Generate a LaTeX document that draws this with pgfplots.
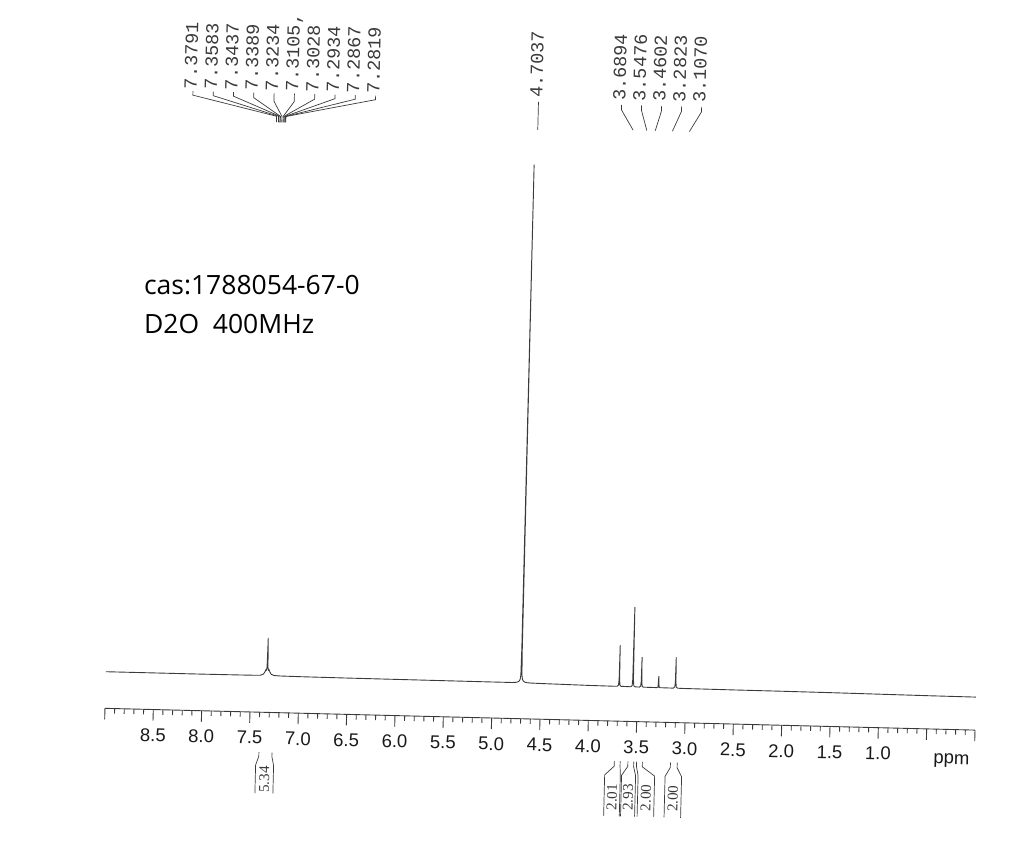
\documentclass[border=0pt]{standalone}
\usepackage{fontspec}
\setmainfont{Liberation Sans}
\newfontfamily\monofont{Liberation Mono}
\newfontfamily\seriffont{Liberation Serif}
\newfontfamily\notefont{Open Sans}
\usepackage{pgfplots}
\pgfplotsset{compat=1.18}
\definecolor{ink}{HTML}{3A3A3A}

\begin{document}
\begin{tikzpicture}
\path[use as bounding box] (0,0) rectangle (1028pt,841pt);
% scanned spectrum is tilted by ~1.4 deg, so the axis uses skewed unit vectors
\begin{axis}[
  at={(975pt,110.9pt)}, anchor=origin,
  x={(96.67pt,-2.42pt)}, y={(0.025pt,1pt)},
  x dir=reverse,
  xmin=0, xmax=9, ymin=0, ymax=700,
  axis x line*=bottom, axis y line=none, ytick=\empty,
  clip=false,
  xtick={0,0.5,1,1.5,2,2.5,3,3.5,4,4.5,5,5.5,6,6.5,7,7.5,8,8.5,9},
  xticklabels={{},{},1.0,1.5,2.0,2.5,3.0,3.5,4.0,4.5,5.0,5.5,6.0,6.5,7.0,7.5,8.0,8.5,{}},
  minor tick num=4,
  tick align=outside, xtick pos=bottom,
  major tick length=11pt, minor tick length=5pt,
  tick style={ink, line width=0.9pt},
  axis line style={ink, line width=0.9pt, -},
  xticklabel style={font=\fontsize{18.5}{20}\selectfont, text=black!90, inner sep=0pt, yshift=-8pt, rotate=-1.4},
]
\addplot[ink, line width=0.9pt] coordinates {
  (9.00,36.6) (8.50,36.6) (8.00,36.6) (7.60,36.7) (7.45,36.8) (7.40,37.0)
  (7.37,38.2) (7.355,40.5) (7.345,42.8) (7.34,42.3) (7.335,45) (7.332,60)
  (7.330,74.5) (7.328,60) (7.325,45) (7.32,42.3) (7.315,42.8) (7.305,40.5)
  (7.29,38.2) (7.26,37.0) (7.20,36.7) (7.00,36.5) (6.50,36.3) (6.00,36.2)
  (5.50,36.1) (5.00,36.0) (4.80,36.0) (4.76,36.2) (4.74,36.7) (4.725,37.6)
  (4.715,39.5) (4.709,44) (4.706,70) (4.7037,554) (4.701,70) (4.698,44)
  (4.692,39.5) (4.682,37.6) (4.667,36.7) (4.647,36.2) (4.60,35.9) (4.50,35.7)
  (4.00,35.0) (3.75,34.8) (3.71,34.9) (3.697,36) (3.692,42) (3.6894,76)
  (3.687,42) (3.682,36) (3.67,34.9) (3.57,34.7) (3.556,35.8) (3.551,42)
  (3.5476,114.5) (3.544,42) (3.539,35.8) (3.525,34.7) (3.48,34.6) (3.468,35.6)
  (3.463,40) (3.4602,64.7) (3.457,40) (3.452,35.6) (3.44,34.6) (3.30,34.5)
  (3.288,35) (3.2823,46) (3.277,35) (3.265,34.5) (3.13,34.4) (3.115,35.6)
  (3.110,40) (3.1070,65.5) (3.104,40) (3.099,35.6) (3.085,34.4) (3.00,34.3)
  (2.50,34.1) (2.00,34.0) (1.50,33.8) (1.00,33.5) (0.50,33.2) (0.00,33.0)
};

% peak labels, aromatic multiplet
\begin{scope}[ink, line width=0.7pt]
\draw (axis cs:8.25,619) -- (axis cs:8.25,615) -- (axis cs:7.3791,596) -- (axis cs:7.3791,590);
\draw (axis cs:8.04,619) -- (axis cs:8.04,615) -- (axis cs:7.3583,596) -- (axis cs:7.3583,590);
\draw (axis cs:7.83,619) -- (axis cs:7.83,615) -- (axis cs:7.3437,596) -- (axis cs:7.3437,590);
\draw (axis cs:7.62,619) -- (axis cs:7.62,614) -- (axis cs:7.3389,596) -- (axis cs:7.3389,590);
\draw (axis cs:7.41,619) -- (axis cs:7.41,611) -- (axis cs:7.3234,596) -- (axis cs:7.3234,590);
\draw (axis cs:7.20,619) -- (axis cs:7.20,611) -- (axis cs:7.3105,596) -- (axis cs:7.3105,590);
\draw (axis cs:6.99,619) -- (axis cs:6.99,614) -- (axis cs:7.3028,596) -- (axis cs:7.3028,590);
\draw (axis cs:6.78,619) -- (axis cs:6.78,615) -- (axis cs:7.2934,596) -- (axis cs:7.2934,590);
\draw (axis cs:6.57,619) -- (axis cs:6.57,615) -- (axis cs:7.2867,596) -- (axis cs:7.2867,590);
\draw (axis cs:6.36,619) -- (axis cs:6.36,615) -- (axis cs:7.2819,596) -- (axis cs:7.2819,590);
% water
\draw (axis cs:4.675,617) -- (axis cs:4.675,589);
% aliphatic
\draw (axis cs:3.815,616) -- (axis cs:3.815,611) -- (axis cs:3.6894,591);
\draw (axis cs:3.608,616) -- (axis cs:3.608,611) -- (axis cs:3.5476,591);
\draw (axis cs:3.401,616) -- (axis cs:3.401,611) -- (axis cs:3.4602,591);
\draw (axis cs:3.194,616) -- (axis cs:3.194,611) -- (axis cs:3.2823,591);
\draw (axis cs:2.987,616) -- (axis cs:2.987,611) -- (axis cs:3.1070,591);
\end{scope}

\begin{scope}[every node/.style={rotate=88.6, anchor=west, inner sep=0pt, text=ink,
    text height=1.4ex, text depth=0pt, font=\monofont\fontsize{18.5}{20}\selectfont}]
\node at (axis cs:8.25,621) {7.3791};
\node at (axis cs:8.04,621) {7.3583};
\node at (axis cs:7.83,621) {7.3437};
\node at (axis cs:7.62,621) {7.3389};
\node at (axis cs:7.41,621) {7.3234};
\node at (axis cs:7.20,621) {7.3105,};
\node at (axis cs:6.99,621) {7.3028};
\node at (axis cs:6.78,621) {7.2934};
\node at (axis cs:6.57,621) {7.2867};
\node at (axis cs:6.36,621) {7.2819};
\node at (axis cs:4.675,621) {4.7037};
\node at (axis cs:3.815,620) {3.6894};
\node at (axis cs:3.608,620) {3.5476};
\node at (axis cs:3.401,620) {3.4602};
\node at (axis cs:3.194,620) {3.2823};
\node at (axis cs:2.987,620) {3.1070};
\end{scope}

% integrals
\begin{scope}[ink, line width=0.7pt]
\draw (axis cs:7.397,-40) -- (axis cs:7.397,-44) -- (axis cs:7.428,-53) -- (axis cs:7.428,-81);
\draw (axis cs:7.262,-40) -- (axis cs:7.262,-44) -- (axis cs:7.242,-53) -- (axis cs:7.242,-81);
\draw (axis cs:3.72,-40) -- (axis cs:3.72,-45) -- (axis cs:3.817,-54) -- (axis cs:3.817,-95);
\draw (axis cs:3.66,-40) -- (axis cs:3.66,-45) -- (axis cs:3.655,-54) -- (axis cs:3.655,-95);
\draw (axis cs:3.58,-40) -- (axis cs:3.58,-45) -- (axis cs:3.642,-54) -- (axis cs:3.642,-95);
\draw (axis cs:3.52,-40) -- (axis cs:3.52,-45) -- (axis cs:3.497,-54) -- (axis cs:3.497,-95);
\draw (axis cs:3.49,-40) -- (axis cs:3.49,-45) -- (axis cs:3.471,-54) -- (axis cs:3.471,-95);
\draw (axis cs:3.43,-40) -- (axis cs:3.43,-45) -- (axis cs:3.300,-54) -- (axis cs:3.300,-95);
\draw (axis cs:3.14,-40) -- (axis cs:3.14,-45) -- (axis cs:3.192,-54) -- (axis cs:3.192,-95);
\draw (axis cs:3.07,-40) -- (axis cs:3.07,-45) -- (axis cs:3.021,-54) -- (axis cs:3.021,-95);
\end{scope}
\begin{scope}[every node/.style={rotate=88.6, inner sep=0pt, text=ink,
    font=\seriffont\fontsize{15}{16}\selectfont}]
\node at (axis cs:7.335,-67) {5.34};
\node at (axis cs:3.736,-76) {2.01};
\node at (axis cs:3.570,-76) {2.93};
\node at (axis cs:3.385,-76) {2.00};
\node at (axis cs:3.106,-76) {2.00};
\end{scope}

\node[rotate=-1.4, font=\fontsize{18.5}{20}\selectfont, text=black!90] at (axis cs:0.236,-31.5) {ppm};
\end{axis}

\node[anchor=base west, font=\notefont\fontsize{26.5}{30}\selectfont] at (140.5pt,546pt) {cas:1788054-67-0};
\node[anchor=base west, font=\notefont\fontsize{26.5}{30}\selectfont] at (140.5pt,507pt) {D2O\ \ 400MHz};
\end{tikzpicture}
\end{document}
